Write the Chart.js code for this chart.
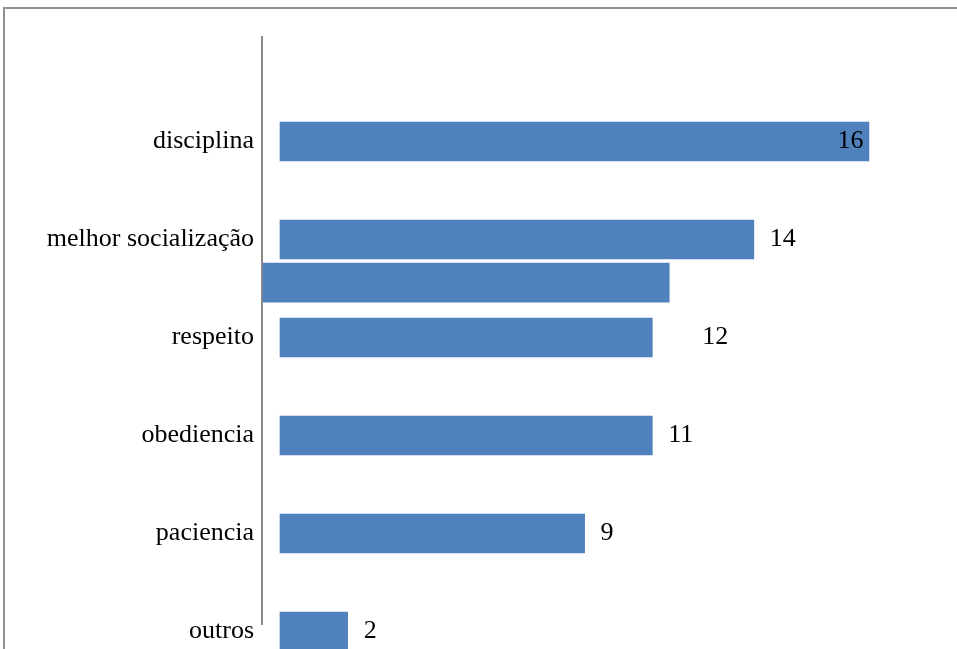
<!DOCTYPE html>
<html>
<head>
<meta charset="utf-8">
<script src="https://cdn.jsdelivr.net/npm/chart.js@4/dist/chart.umd.min.js"></script>
<style>
    html, body { margin: 0; padding: 0; overflow: hidden; background: #fff; }
    .frame { position: absolute; left: 3px; top: 7px; width: 1000px; height: 700px; border: 2px solid #909090; }
    .wrap { position: absolute; left: 0; top: 0; width: 957px; height: 649px; }
</style>
</head>
<body>
<div class="frame"></div>
<div class="wrap"><canvas id="grafico"></canvas></div>
<script>
// categorias e valores
let categorias = ['disciplina', 'melhor socialização', 'respeito', 'obediencia', 'paciencia', 'outros'];
let valores = [16, 14, 12, 11, 9, 2];          // numeros escritos ao lado das barras
let fimBarras = [17.4, 14, 11, 11, 9, 2];      // comprimento desenhado de cada barra
let posicoes = [0, 1, 2, 3, 4, 5];
// barra extra sem rotulo entre "melhor socializacao" e "respeito"
let extraPos = 1.44;
let extraInicio = -0.5;
let extraFim = 11.5;

let azul = '#4f81bd';
let fonte = '"Liberation Serif", "Times New Roman", serif';

let rotulosValores = {
    id: 'rotulosValores',
    afterDatasetsDraw(chart) {
        let ctx = chart.ctx;
        let xs = chart.scales.x;
        let ys = chart.scales.y;
        ctx.save();
        ctx.font = '26px ' + fonte;
        ctx.fillStyle = '#000';
        ctx.textAlign = 'left';
        ctx.textBaseline = 'middle';
        for (let i = 0; i < valores.length; i++) {
            ctx.fillText(String(valores[i]), xs.getPixelForValue(valores[i]) + 16, ys.getPixelForValue(posicoes[i]));
        }
        ctx.restore();
    }
};

let grafico = document.getElementById('grafico').getContext('2d');
let myChart = new Chart(grafico, {
    type: 'bar',
    data: {
        datasets: [{
            data: posicoes.map((p, i) => ({ y: p, x: [0, fimBarras[i]] })),
            backgroundColor: azul,
            barThickness: 39,
            clip: false
        }, {
            data: [{ y: extraPos, x: [extraInicio, extraFim] }],
            backgroundColor: azul,
            barThickness: 39,
            clip: false
        }]
    },
    plugins: [rotulosValores],
    options: {
        indexAxis: 'y',
        responsive: true,
        maintainAspectRatio: false,
        animation: false,
        grouped: false,
        layout: {
            padding: { top: 37, bottom: 25, left: 0, right: 17 }
        },
        plugins: {
            legend: false,
            tooltip: { enabled: false }
        },
        scales: {
            x: {
                type: 'linear',
                display: false,
                min: -0.532,
                max: 19.5
            },
            y: {
                type: 'linear',
                reverse: true,
                offset: false,
                bounds: 'data',
                min: -1.066,
                max: 4.923,
                afterFit: (scale) => { scale.width = 262; },
                afterBuildTicks: (scale) => {
                    scale.ticks = posicoes.map(p => ({ value: p }));
                },
                grid: {
                    display: false,
                    drawTicks: false
                },
                border: {
                    display: true,
                    color: '#8a8a8a',
                    width: 2
                },
                ticks: {
                    autoSkip: false,
                    padding: 8,
                    color: '#000',
                    font: { family: fonte, size: 26 },
                    callback: (value) => categorias[posicoes.indexOf(value)]
                }
            }
        }
    }
});
</script>
</body>
</html>
